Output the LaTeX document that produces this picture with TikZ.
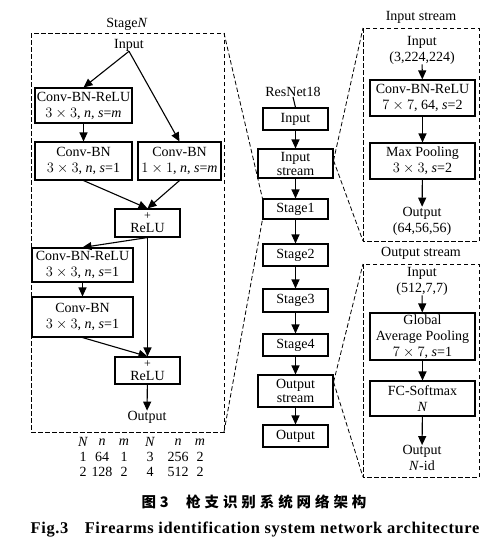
\documentclass[tikz,border=0pt]{standalone}
\usepackage{fontspec}
\setmainfont{Liberation Serif}
\newfontfamily\cjk{Noto Sans CJK SC}[LetterSpace=27]
\usetikzlibrary{arrows.meta}

\begin{document}
\begin{tikzpicture}[
  x=1pt,y=-1pt,
  >={Triangle[length=9pt,width=8pt]},
  blk/.style={draw,line width=1.1pt,align=center,inner sep=0pt},
  zone/.style={draw,dashed,line width=.9pt,dash pattern=on 4.5pt off 2.5pt},
  zoomline/.style={dashed,line width=.8pt,dash pattern=on 4.5pt off 2.5pt},
  arr/.style={->,line width=1.1pt},
  txt/.style={align=center,inner sep=0pt},
  every node/.style={font=\fontsize{14}{16}\selectfont}
]
  \useasboundingbox (0,0) rectangle (503,550);

  % Stage N
  \draw[zone] (31,33) rectangle (224,432);
  \node[txt] (stagelbl) at (127,24) {Stage\textit{N}};
  \node[txt] (sin) at (129,45) {Input};
  \node[blk,minimum width=97pt,minimum height=35pt] (cbr1) at (83.5,105.5)
    {Conv-BN-ReLU\\$3\times3$, \textit{n}, \textit{s}=\textit{m}};
  \node[blk,minimum width=97pt,minimum height=38pt] (cb1) at (83.5,161)
    {Conv-BN\\$3\times3$, \textit{n}, \textit{s}=1};
  \node[blk,minimum width=83pt,minimum height=38pt] (cbs) at (179.5,161)
    {Conv-BN\\$1\times1$, \textit{n}, \textit{s}=\textit{m}};
  \node[blk,minimum width=65pt,minimum height=28pt] (relu1) at (147.5,223)
    {{\fontsize{12}{12}\selectfont +}\\[-3pt]ReLU};
  \node[blk,minimum width=101pt,minimum height=34pt] (cbr2) at (82.5,265)
    {Conv-BN-ReLU\\$3\times3$, \textit{n}, \textit{s}=1};
  \node[blk,minimum width=101pt,minimum height=40pt] (cb2) at (82.5,317)
    {Conv-BN\\$3\times3$, \textit{n}, \textit{s}=1};
  \node[blk,minimum width=65pt,minimum height=27pt] (relu2) at (147.5,370.5)
    {{\fontsize{12}{12}\selectfont +}\\[-3pt]ReLU};
  \node[txt] (sout) at (147,417) {Output};

  \draw[arr] (sin.south) -- (cbr1.north);
  \draw[arr] (sin.south) -- (cbs.north);
  \draw[arr] (cbr1) -- (cb1);
  \draw[arr] (cb1.south) -- (relu1.north);
  \draw[arr] (cbs.south) -- (relu1.north);
  \draw[arr] (relu1.south) -- (cbr2.north);
  \draw[arr] (relu1.south) -- (relu2.north);
  \draw[arr] (cbr2) -- (cb2);
  \draw[arr] (cb2.south) -- (relu2.north);
  \draw[arr] (relu2) -- (sout);

  % N n m table
  \node[txt] (tN1) at (83,442) {\textit{N}};
  \node[txt] (tn1) at (102,442) {\textit{n}};
  \node[txt] (tm1) at (124,442) {\textit{m}};
  \node[txt] (tN2) at (150,442) {\textit{N}};
  \node[txt] (tn2) at (178,442) {\textit{n}};
  \node[txt] (tm2) at (200,442) {\textit{m}};
  \node[txt] (ra1) at (83,457) {1};
  \node[txt] (ra2) at (102,457) {64};
  \node[txt] (ra3) at (124,457) {1};
  \node[txt] (ra4) at (150,457) {3};
  \node[txt] (ra5) at (178,457) {256};
  \node[txt] (ra6) at (200,457) {2};
  \node[txt] (rb1) at (83,472) {2};
  \node[txt] (rb2) at (102,472) {128};
  \node[txt] (rb3) at (124,472) {2};
  \node[txt] (rb4) at (150,472) {4};
  \node[txt] (rb5) at (178,472) {512};
  \node[txt] (rb6) at (200,472) {2};

  % ResNet18 column
  \node[txt] (net) at (293,92) {ResNet18};
  \node[blk,minimum width=65pt,minimum height=22pt] (rin) at (295.5,119) {Input};
  \node[blk,minimum width=75pt,minimum height=29pt] (ris) at (295.5,163.5) {Input\\[-2pt]stream};
  \node[blk,minimum width=65pt,minimum height=20pt] (st1) at (295.5,209) {Stage1};
  \node[blk,minimum width=65pt,minimum height=22pt] (st2) at (295.5,255) {Stage2};
  \node[blk,minimum width=65pt,minimum height=23pt] (st3) at (295.5,300.5) {Stage3};
  \node[blk,minimum width=65pt,minimum height=22pt] (st4) at (295.5,345) {Stage4};
  \node[blk,minimum width=75pt,minimum height=32pt] (ros) at (295.5,391) {Output\\[-2pt]stream};
  \node[blk,minimum width=65pt,minimum height=22pt] (rout) at (295.5,436) {Output};

  \draw[line width=1.1pt] (net.south) -- (rin.north);
  \draw[arr] (rin) -- (ris);
  \draw[arr] (ris) -- (st1);
  \draw[arr] (st1) -- (st2);
  \draw[arr] (st2) -- (st3);
  \draw[arr] (st3) -- (st4);
  \draw[arr] (st4) -- (ros);
  \draw[arr] (ros) -- (rout);

  % Input stream
  \draw[zone] (363,28) rectangle (479,241);
  \node[txt] (islbl) at (421,17) {Input stream};
  \node[txt] (iin) at (422,50) {Input\\(3,224,224)};
  \node[blk,minimum width=105pt,minimum height=36pt] (icbr) at (422.5,98)
    {Conv-BN-ReLU\\$7\times7$, 64, \textit{s}=2};
  \node[blk,minimum width=105pt,minimum height=36pt] (imp) at (422.5,161)
    {Max Pooling\\$3\times3$, \textit{s}=2};
  \node[txt] (iout) at (422,221) {Output\\(64,56,56)};
  \draw[arr] (iin) -- (icbr);
  \draw[arr] (icbr) -- (imp);
  \draw[arr] (imp) -- (iout);

  % Output stream
  \draw[zone] (363,264) rectangle (479,477);
  \node[txt] (oslbl) at (421,253) {Output stream};
  \node[txt] (oin) at (422,281) {Input\\(512,7,7)};
  \node[blk,minimum width=105pt,minimum height=47pt] (ogap) at (422.5,336.5)
    {Global\\Average Pooling\\$7\times7$, \textit{s}=1};
  \node[blk,minimum width=105pt,minimum height=35pt] (ofc) at (422.5,398.5)
    {FC-Softmax\\\textit{N}};
  \node[txt] (oout) at (422,458) {Output\\\textit{N}-id};
  \draw[arr] (oin) -- (ogap);
  \draw[arr] (ogap) -- (ofc);
  \draw[arr] (ofc) -- (oout);

  % zoom lines
  \coordinate (sz1) at (224,33);
  \coordinate (sz2) at (224,432);
  \coordinate (iz1) at (363,28);
  \coordinate (iz2) at (363,241);
  \coordinate (oz1) at (363,264);
  \coordinate (oz2) at (363,477);
  \draw[zoomline] (sz1) -- (st1.north west);
  \draw[zoomline] (sz2) -- (st1.south west);
  \draw[zoomline] ([yshift=3pt]ris.east) -- (iz1);
  \draw[zoomline] ([yshift=3pt]ris.east) -- (iz2);
  \draw[zoomline] ([yshift=9pt]ros.east) -- (oz1);
  \draw[zoomline] ([yshift=9pt]ros.east) -- (oz2);

  % caption
  \node[font=\cjk\bfseries\fontsize{14.5}{16}\selectfont] (capcn) at (254,502)
    {图3\hspace{1.2em}枪支识别系统网络架构};
  \node[font=\bfseries\fontsize{16.4}{18}\selectfont\addfontfeature{LetterSpace=4}] (capen) at (255,530)
    {Fig.3\hspace{1em}Firearms identification system network architecture};
\end{tikzpicture}
\end{document}
